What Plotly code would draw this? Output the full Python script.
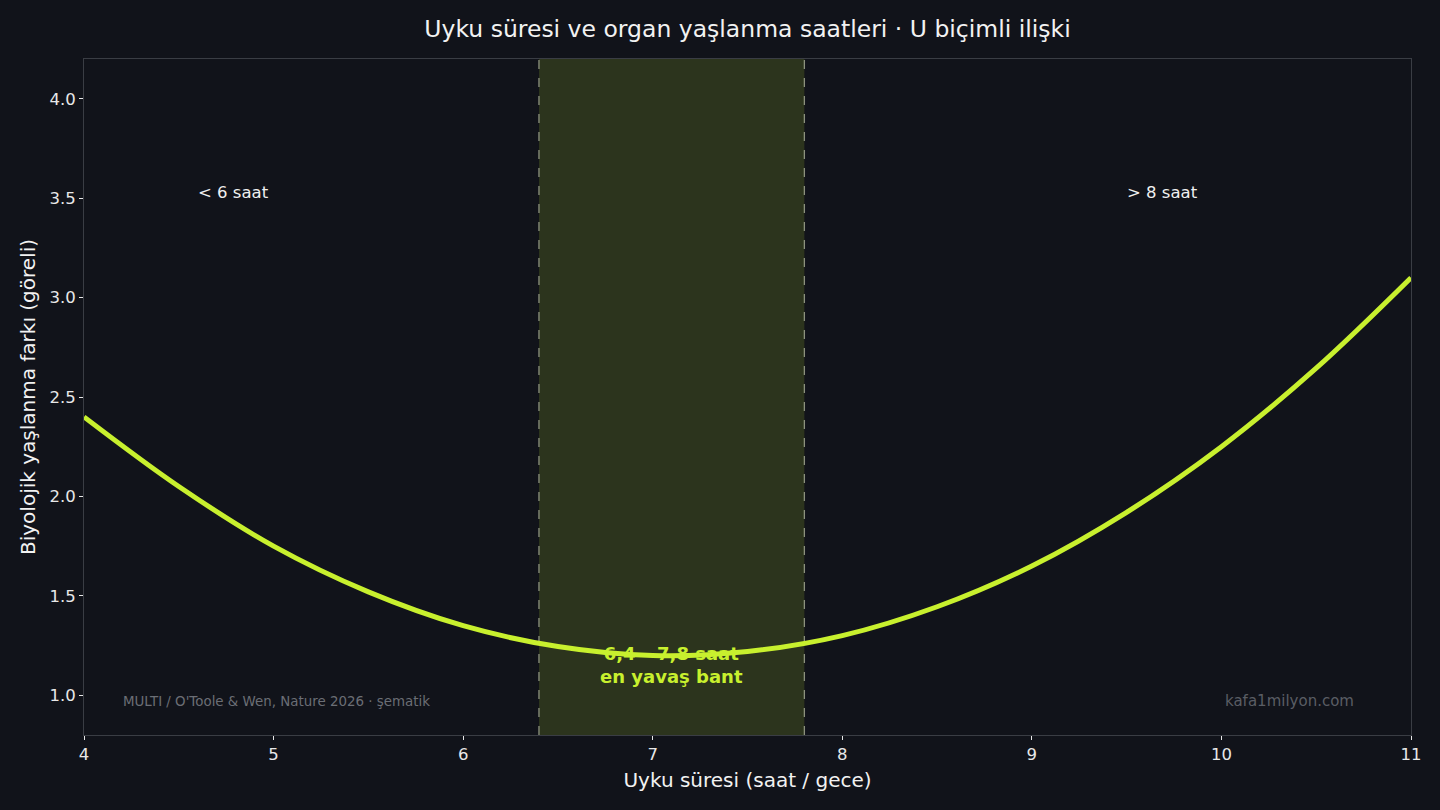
import plotly.graph_objects as go

# Data
sleep_hours = [4.0, 4.5, 5.0, 5.5, 6.0, 6.5, 7.0, 7.5, 8.0, 8.5, 9.0, 9.5, 10.0, 10.5, 11.0]
aging_gap = [2.40, 2.05, 1.75, 1.52, 1.35, 1.245, 1.20, 1.22, 1.30, 1.445, 1.65, 1.92, 2.25, 2.645, 3.10]
band_range = [6.4, 7.8]
x_ticks = [4, 5, 6, 7, 8, 9, 10, 11]
y_ticks = [1.0, 1.5, 2.0, 2.5, 3.0, 3.5, 4.0]

BG = "#11131a"
LIME = "#c8f02e"
FONT = "DejaVu Sans"

fig = go.Figure()

fig.add_shape(type="rect", xref="x", yref="paper", x0=band_range[0], x1=band_range[1], y0=0, y1=1,
              fillcolor="rgba(200,240,46,0.15)", line=dict(width=0), layer="below")
for bx in band_range:
    fig.add_shape(type="line", xref="x", yref="paper", x0=bx, x1=bx, y0=0, y1=1,
                  line=dict(color="#8c917e", width=1.3, dash="dash"), layer="below")

fig.add_trace(go.Scatter(x=sleep_hours, y=aging_gap, mode="lines",
                         line=dict(color=LIME, width=5, shape="spline", smoothing=1.0),
                         hoverinfo="skip", showlegend=False))

fig.add_annotation(x=7.1, y=1.15, xref="x", yref="y", showarrow=False,
                   text="<b>6,4 – 7,8 saat<br>en yavaş bant</b>",
                   font=dict(family=FONT, size=18, color=LIME), align="center")
fig.add_annotation(x=4.79, y=3.53, xref="x", yref="y", showarrow=False, text="&lt; 6 saat",
                   font=dict(family=FONT, size=16.5, color="#f0f0f0"))
fig.add_annotation(x=9.69, y=3.53, xref="x", yref="y", showarrow=False, text="&gt; 8 saat",
                   font=dict(family=FONT, size=16.5, color="#f0f0f0"))
fig.add_annotation(x=0.028, y=0.05, xref="paper", yref="paper", showarrow=False,
                   xanchor="left", yanchor="middle",
                   text="MULTI / O'Toole & Wen, Nature 2026 · şematik",
                   font=dict(family=FONT, size=13.4, color="#6b6e75"))
fig.add_annotation(x=0.9585, y=0.05, xref="paper", yref="paper", showarrow=False,
                   xanchor="right", yanchor="middle", text="kafa1milyon.com",
                   font=dict(family=FONT, size=15, color="#5a5d64"))

axis_common = dict(showgrid=False, zeroline=False, showline=True, linecolor="#3a3d44", linewidth=1,
                   mirror=True, ticks="outside", ticklen=4, tickwidth=1, tickcolor="#e8e8e8",
                   tickfont=dict(family=FONT, size=16.5, color="#e8e8e8"))

fig.update_layout(
    width=1440, height=810,
    paper_bgcolor=BG, plot_bgcolor=BG,
    margin=dict(l=84, r=29, t=59, b=75),
    title=dict(text="Uyku süresi ve organ yaşlanma saatleri · U biçimli ilişki",
               xref="paper", x=0.5, xanchor="center", y=0.965, yanchor="middle",
               font=dict(family=FONT, size=23.5, color="#f2f2f2")),
    xaxis=dict(range=[4, 11], tickvals=x_ticks, ticktext=[str(t) for t in x_ticks],
               title=dict(text="Uyku süresi (saat / gece)", font=dict(family=FONT, size=20, color="#f2f2f2"),
                          standoff=10),
               **axis_common),
    yaxis=dict(range=[0.8, 4.2], tickvals=y_ticks, ticktext=[f"{t:.1f}" for t in y_ticks],
               title=dict(text="Biyolojik yaşlanma farkı (göreli)", font=dict(family=FONT, size=20, color="#f2f2f2"),
                          standoff=8),
               **axis_common),
)

fig.write_html("out.html", config={"displayModeBar": False},
               post_script="document.body.style.margin='0';document.body.style.background='%s';" % BG)
